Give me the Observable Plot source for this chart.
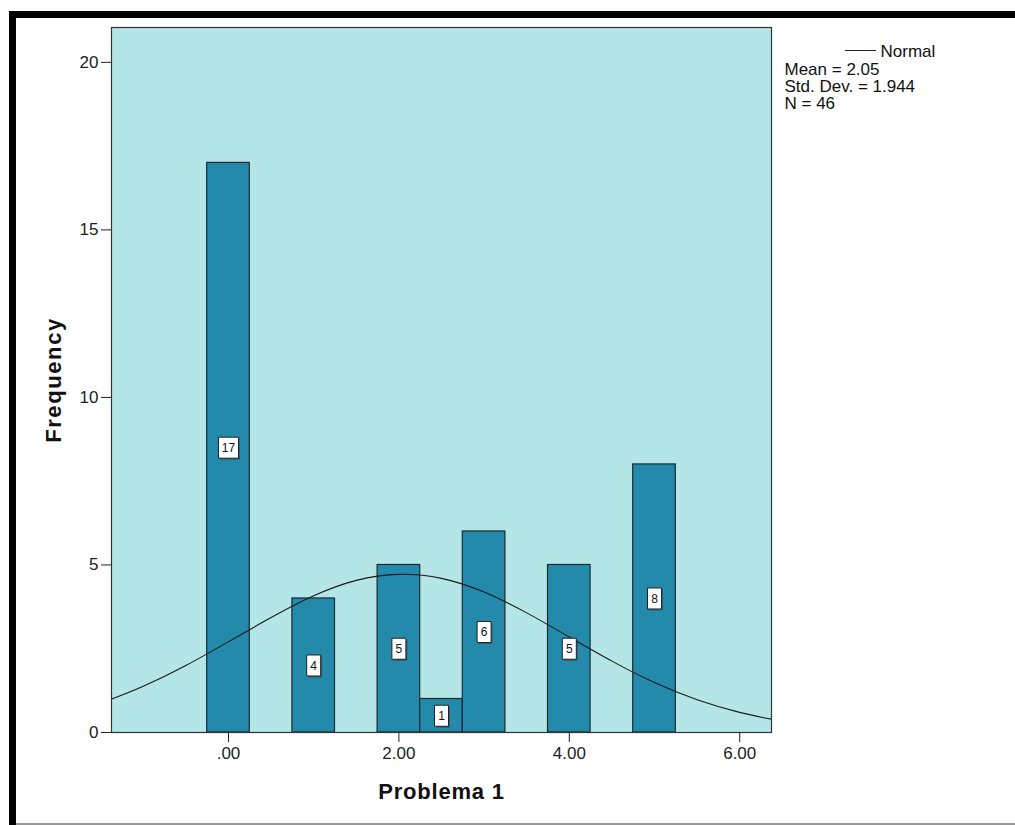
<!DOCTYPE html>
<html>
<head>
<meta charset="utf-8">
<script src="https://cdn.jsdelivr.net/npm/d3@7"></script>
<script src="https://cdn.jsdelivr.net/npm/@observablehq/plot@0.6"></script>
<style>
  html, body { margin: 0; padding: 0; background: #fff; }
  body { width: 1015px; height: 825px; position: relative; overflow: hidden; font-family: "Liberation Sans", Arial, sans-serif; }
  #chart { position: absolute; left: 0; top: 0; }
  .frame-top { position: absolute; left: 9px; top: 11px; width: 1006px; height: 7px; background: #000; }
  .frame-left { position: absolute; left: 9px; top: 11px; width: 7px; height: 814px; background: #000; }
  .frame-bottom { position: absolute; left: 16px; top: 823px; width: 999px; height: 2px; background: #999; }
  .legend-line { position: absolute; left: 845px; top: 50px; width: 31px; height: 0; border-top: 1px solid #222; }
</style>
</head>
<body>
<div id="chart"></div>
<div class="frame-top"></div>
<div class="frame-left"></div>
<div class="frame-bottom"></div>
<div class="legend-line"></div>
<script>
// Histogram bins (centers) and frequencies
const binCenters = [0, 1, 2, 2.5, 3, 4, 5];
const counts = [17, 4, 5, 1, 6, 5, 8];
const binWidth = 0.5;

// Normal curve
const curveX = [-1.37, -1, -0.5, 0, 0.5, 1, 1.5, 2, 2.5, 3, 3.5, 4, 4.5, 5, 5.5, 6, 6.37];
const curveY = [1.00, 1.38, 2.00, 2.71, 3.43, 4.08, 4.54, 4.72, 4.60, 4.19, 3.57, 2.85, 2.13, 1.49, 0.98, 0.60, 0.40];

// Axis ticks
const xTicks = [0, 2, 4, 6];
const xTickLabels = [".00", "2.00", "4.00", "6.00"];
const yTicks = [0, 5, 10, 15, 20];

// Stats
const statMean = "2.05";
const statSD = "1.944";
const statN = "46";

const bars = binCenters.map((c, i) => ({x1: c - binWidth / 2, x2: c + binWidth / 2, xc: c, count: counts[i], label: String(counts[i])}));
const curve = curveX.map((x, i) => ({x, y: curveY[i]}));

const boxSymbol = (w, h) => ({
  draw(ctx) { ctx.rect(-w / 2, -h / 2, w, h); }
});

const font = "'Liberation Sans', Arial, sans-serif";

const chart = Plot.plot({
  width: 1015,
  height: 825,
  marginLeft: 111,
  marginRight: 244,
  marginTop: 27,
  marginBottom: 93,
  style: { fontFamily: font, background: "transparent" },
  x: { domain: [-1.373, 6.373] },
  y: { domain: [0, 21.04] },
  marks: [
    Plot.frame({ fill: "#b4e6e7", stroke: null }),
    Plot.rectY(bars, { x1: "x1", x2: "x2", y: "count", fill: "#248aab", stroke: "#1b2a30", strokeWidth: 1.2 }),
    Plot.line(curve, { x: "x", y: "y", curve: "natural", stroke: "#1a1a1a", strokeWidth: 1.1 }),
    Plot.dot(bars.filter(d => d.label.length > 1), { x: "xc", y: d => d.count / 2, dx: 1.5, dy: 1.5, symbol: boxSymbol(20, 21), fill: "#333", fillOpacity: 0.5, stroke: null }),
    Plot.dot(bars.filter(d => d.label.length === 1), { x: "xc", y: d => d.count / 2, dx: 1.5, dy: 1.5, symbol: boxSymbol(14, 21), fill: "#333", fillOpacity: 0.5, stroke: null }),
    Plot.dot(bars.filter(d => d.label.length > 1), { x: "xc", y: d => d.count / 2, symbol: boxSymbol(20, 21), fill: "#fff", stroke: "#222", strokeWidth: 1 }),
    Plot.dot(bars.filter(d => d.label.length === 1), { x: "xc", y: d => d.count / 2, symbol: boxSymbol(14, 21), fill: "#fff", stroke: "#222", strokeWidth: 1 }),
    Plot.text(bars, { x: "xc", y: d => d.count / 2, text: "label", fontSize: 12, fill: "#111", dy: 0.5 }),
    Plot.frame({ stroke: "#333", strokeWidth: 1.2 }),
    Plot.axisY({ ticks: yTicks, tickSize: 10, tickPadding: 3, tickFormat: d => String(d), fontSize: 17, label: null, stroke: "#222", color: "#222" }),
    Plot.axisX({ ticks: xTicks, tickSize: 10, tickPadding: 4, tickFormat: d => xTickLabels[xTicks.indexOf(d)], fontSize: 17, label: null, stroke: "#222", color: "#222" }),
    Plot.text(["Frequency"], { frameAnchor: "left", dx: -58, rotate: -90, textAnchor: "middle", lineAnchor: "middle", fontSize: 22, fontWeight: "bold", fill: "#111" }),
    Plot.text(["Problema 1"], { frameAnchor: "bottom", dy: 59, textAnchor: "middle", lineAnchor: "middle", fontSize: 22, fontWeight: "bold", fill: "#111" }),
    Plot.text(["Normal"], { frameAnchor: "top-right", dx: 109, dy: 24, textAnchor: "start", lineAnchor: "middle", fontSize: 17, fill: "#111" }),
    Plot.text([`Mean = ${statMean}`], { frameAnchor: "top-right", dx: 13, dy: 42, textAnchor: "start", lineAnchor: "middle", fontSize: 17, fill: "#111" }),
    Plot.text([`Std. Dev. = ${statSD}`], { frameAnchor: "top-right", dx: 13, dy: 59, textAnchor: "start", lineAnchor: "middle", fontSize: 17, fill: "#111" }),
    Plot.text([`N = ${statN}`], { frameAnchor: "top-right", dx: 13, dy: 76, textAnchor: "start", lineAnchor: "middle", fontSize: 17, fill: "#111" })
  ]
});
d3.select(chart).selectAll("text").each(function () {
  if (this.textContent === "Frequency") this.style.letterSpacing = "1.6px";
  if (this.textContent === "Problema 1") this.style.letterSpacing = "0.8px";
});
document.getElementById("chart").appendChild(chart);
</script>
</body>
</html>
